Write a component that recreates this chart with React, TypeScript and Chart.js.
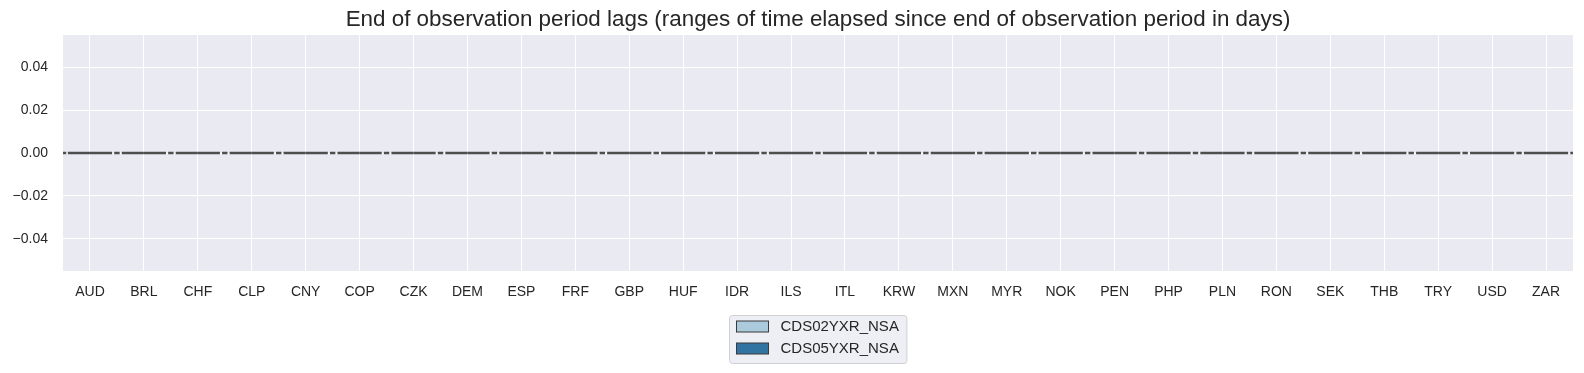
import React, { useEffect, useRef } from "react";
import { Chart, registerables } from "chart.js";

Chart.register(...registerables);

const categories = ["AUD","BRL","CHF","CLP","CNY","COP","CZK","DEM","ESP","FRF","GBP","HUF","IDR","ILS","ITL","KRW","MXN","MYR","NOK","PEN","PHP","PLN","RON","SEK","THB","TRY","USD","ZAR"];
const seriesNames = ["CDS02YXR_NSA", "CDS05YXR_NSA"];
const cds02Medians = [0,0,0,0,0,0,0,0,0,0,0,0,0,0,0,0,0,0,0,0,0,0,0,0,0,0,0,0];
const cds05Medians = [0,0,0,0,0,0,0,0,0,0,0,0,0,0,0,0,0,0,0,0,0,0,0,0,0,0,0,0];
const yTicks = [-0.04, -0.02, 0, 0.02, 0.04];
const yMin = -0.055;
const yMax = 0.055;
const titleText = "End of observation period lags (ranges of time elapsed since end of observation period in days)";
const swatchColors = ["#abcbdc", "#3274a1"];
const lineColor = "#4e4e4e";
const FONT = "'Liberation Sans', Arial, sans-serif";

function segs(vals: number[], a: number, b: number) {
  const out: any[] = [];
  vals.forEach((v, i) => {
    out.push({ x: i + a, y: v });
    out.push({ x: i + b, y: v });
    out.push({ x: i + b + 0.001, y: null });
  });
  return out;
}

const bgPlugin = {
  id: "bgPlugin",
  beforeDraw(chart: any) {
    const { ctx, chartArea } = chart;
    ctx.save();
    ctx.fillStyle = "#eaeaf2";
    ctx.fillRect(chartArea.left, chartArea.top, chartArea.right - chartArea.left, chartArea.bottom - chartArea.top);
    ctx.restore();
  },
  afterDraw(chart: any) {
    const { ctx, chartArea } = chart;
    ctx.save();
    ctx.font = `22.4px ${FONT}`;
    ctx.fillStyle = "#262626";
    ctx.textAlign = "center";
    ctx.textBaseline = "alphabetic";
    ctx.fillText(titleText, (chartArea.left + chartArea.right) / 2, 18);
    ctx.restore();
  },
};

const legendPlugin = {
  id: "boxLegend",
  afterDraw(chart: any) {
    const { ctx, chartArea } = chart;
    ctx.save();
    ctx.font = `15px ${FONT}`;
    const tw = Math.max(...seriesNames.map((s) => ctx.measureText(s).width));
    const w = 7 + 32 + 12 + tw + 8;
    const h = 48;
    const cx = (chartArea.left + chartArea.right) / 2;
    const x0 = Math.round(cx - w / 2) + 0.5;
    const y0 = 307.5;
    ctx.beginPath();
    const r = 3;
    ctx.moveTo(x0 + r, y0);
    ctx.lineTo(x0 + w - r, y0);
    ctx.quadraticCurveTo(x0 + w, y0, x0 + w, y0 + r);
    ctx.lineTo(x0 + w, y0 + h - r);
    ctx.quadraticCurveTo(x0 + w, y0 + h, x0 + w - r, y0 + h);
    ctx.lineTo(x0 + r, y0 + h);
    ctx.quadraticCurveTo(x0, y0 + h, x0, y0 + h - r);
    ctx.lineTo(x0, y0 + r);
    ctx.quadraticCurveTo(x0, y0, x0 + r, y0);
    ctx.closePath();
    ctx.fillStyle = "rgba(234,234,242,0.8)";
    ctx.fill();
    ctx.strokeStyle = "#d0d0d0";
    ctx.lineWidth = 1;
    ctx.stroke();
    seriesNames.forEach((name, k) => {
      const cy = 318.5 + k * 22;
      ctx.fillStyle = swatchColors[k];
      ctx.fillRect(x0 + 7, cy - 5.5, 32, 11);
      ctx.strokeStyle = "#3a3a3a";
      ctx.lineWidth = 1;
      ctx.strokeRect(x0 + 7, cy - 5.5, 32, 11);
      ctx.fillStyle = "#262626";
      ctx.textBaseline = "middle";
      ctx.textAlign = "left";
      ctx.fillText(name, x0 + 7 + 32 + 12, cy + 0.5);
    });
    ctx.restore();
  },
};

export default function App() {
  const ref = useRef<HTMLCanvasElement | null>(null);
  useEffect(() => {
    if (!ref.current) return;
    const common = {
      showLine: true,
      pointRadius: 0,
      pointHoverRadius: 0,
      borderColor: lineColor,
      borderWidth: 2.5,
      spanGaps: false,
      tension: 0,
    };
    const capVals = cds02Medians.map((v, i) => (v + cds05Medians[i]) / 2);
    const chart = new Chart(ref.current, {
      type: "scatter",
      data: {
        datasets: [
          { label: seriesNames[0], data: segs(cds02Medians, -0.41, 0), ...common },
          { label: seriesNames[1], data: segs(cds05Medians, 0, 0.41), ...common },
          { label: "caps", data: [{ x: -0.55, y: capVals[0] }, { x: -0.44, y: capVals[0] }, { x: -0.439, y: null }, ...segs(capVals, 0.45, 0.55)], ...common },
        ],
      },
      options: {
        animation: false,
        responsive: true,
        maintainAspectRatio: false,
        layout: { padding: { left: 0, right: 3, top: 27, bottom: 54 } },
        plugins: {
          legend: { display: false },
          tooltip: { enabled: false },
          title: { display: false },
        },
        scales: {
          x: {
            type: "linear",
            min: -0.5,
            max: categories.length - 0.5,
            afterBuildTicks: (axis: any) => {
              axis.ticks = categories.map((_, i) => ({ value: i }));
            },
            afterFit: (axis: any) => {
              axis.height = 40;
            },
            ticks: {
              autoSkip: false,
              maxRotation: 0,
              padding: 13,
              color: "#262626",
              font: { family: FONT, size: 14 },
              callback: (v: any) => categories[Math.round(Number(v))] ?? "",
            },
            grid: { color: "#ffffff", lineWidth: 1, drawTicks: false },
            border: { display: false },
          },
          y: {
            type: "linear",
            min: yMin,
            max: yMax,
            afterBuildTicks: (axis: any) => {
              axis.ticks = yTicks.map((v) => ({ value: v }));
            },
            afterFit: (axis: any) => {
              axis.width = 55;
            },
            ticks: {
              padding: 15,
              color: "#262626",
              font: { family: FONT, size: 14 },
              callback: (v: any) => {
                const n = Number(v);
                const s = Math.abs(n).toFixed(2);
                return n < -1e-9 ? "\u2212" + s : s;
              },
            },
            grid: { color: "#ffffff", lineWidth: 1, drawTicks: false },
            border: { display: false },
          },
        },
      },
      plugins: [bgPlugin, legendPlugin],
    });
    return () => chart.destroy();
  }, []);
  return (
    <div style={{ width: "100%", height: 357, position: "relative" }}>
      <canvas ref={ref} />
    </div>
  );
}
